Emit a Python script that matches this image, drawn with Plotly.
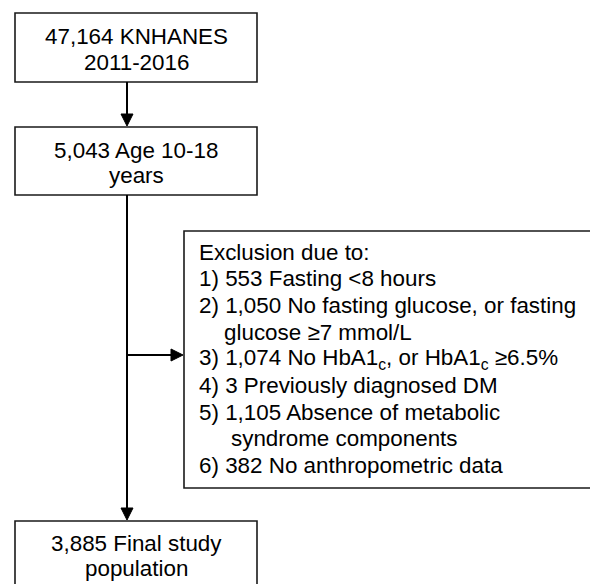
import plotly.graph_objects as go

# ---- data ----
total_n = 47164
survey_years = "2011-2016"
age_n = 5043
age_range = "10-18"
final_n = 3885
exclusion_counts = [553, 1050, 1074, 3, 1105, 382]
exclusion_lines = [
    ("1) {n} Fasting <8 hours", None),
    ("2) {n} No fasting glucose, or fasting", "glucose \u22657 mmol/L"),
    ("3) {n} No HbA1<sub>c</sub>, or HbA1<sub>c</sub> \u22656.5%", None),
    ("4) {n} Previously diagnosed DM", None),
    ("5) {n} Absence of metabolic", "syndrome components"),
    ("6) {n} No anthropometric data", None),
]

W, H = 590, 584
FONT = "Arial, Liberation Sans, sans-serif"
FS = 22.4
BOX_COLOR = "#1a1a1a"
BASE_OFF = 7  # middle of text vs baseline

fig = go.Figure()
fig.update_layout(
    width=W, height=H, margin=dict(l=0, r=0, t=0, b=0),
    paper_bgcolor="white", plot_bgcolor="white",
    xaxis=dict(range=[0, W], visible=False, fixedrange=True),
    yaxis=dict(range=[H, 0], visible=False, fixedrange=True),
    showlegend=False,
)

def box(x0, y0, x1, y1):
    fig.add_shape(type="rect", x0=x0, y0=y0, x1=x1, y1=y1, xref="x", yref="y",
                  line=dict(color=BOX_COLOR, width=1.6), fillcolor="rgba(0,0,0,0)")

def text(x, baseline, s, xanchor="center"):
    fig.add_annotation(x=x, y=baseline - BASE_OFF, xref="x", yref="y", text=s, showarrow=False,
                       xanchor=xanchor, yanchor="middle", borderpad=0,
                       font=dict(family=FONT, size=FS, color="black"))

HL, HW = 12, 6  # arrowhead length, half width

def arrow(x0, y0, x1, y1):
    if x0 == x1:  # vertical, pointing down
        fig.add_shape(type="line", x0=x0, y0=y0, x1=x1, y1=y1 - HL + 1,
                      line=dict(color="black", width=2))
        path = f"M {x1 - HW},{y1 - HL} L {x1 + HW},{y1 - HL} L {x1},{y1} Z"
    else:  # horizontal, pointing right
        fig.add_shape(type="line", x0=x0, y0=y0, x1=x1 - HL + 1, y1=y1,
                      line=dict(color="black", width=2))
        path = f"M {x1 - HL},{y1 - HW} L {x1 - HL},{y1 + HW} L {x1},{y1} Z"
    fig.add_shape(type="path", path=path, fillcolor="black",
                  line=dict(color="black", width=1))

# boxes
box(15, 13, 257, 82)
box(15, 127, 257, 195)
box(184, 231, 594, 488)
box(15, 521, 257, 600)

# box texts
text(136, 43, f"{total_n:,} KNHANES")
text(136, 69, survey_years)
text(136, 157, f"{age_n:,} Age {age_range}")
text(136, 182, "years")
text(136, 550, f"{final_n:,} Final study")
text(136, 575, "population")

# exclusion text
y = 259
text(198, y, "Exclusion due to:", xanchor="left")
indents = [223, 223, 223, 223, 230, 223]
for (line, cont), n, ind in zip(exclusion_lines, exclusion_counts, indents):
    y += 26.7
    text(198, y, line.format(n=f"{n:,}"), xanchor="left")
    if cont:
        y += 26.7
        text(ind, y, cont, xanchor="left")

# arrows
arrow(127, 82, 127, 126)
arrow(127, 195, 127, 520)
arrow(127, 355, 183, 355)

fig.write_html("out.html", config={"displayModeBar": False},
               post_script="document.body.style.margin='0px';document.body.style.overflow='hidden';")
